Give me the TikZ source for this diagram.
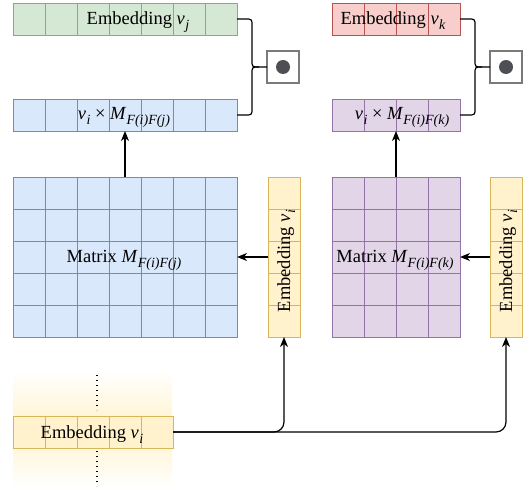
\documentclass[tikz,border=0pt]{standalone}
\usepackage{fontspec}
\setmainfont{Liberation Serif}
\usetikzlibrary{arrows.meta}
\definecolor{gF}{HTML}{D5E8D4}\definecolor{gD}{HTML}{82B366}
\definecolor{bF}{HTML}{DAE8FC}\definecolor{bD}{HTML}{6C8EBF}
\definecolor{rF}{HTML}{F8CECC}\definecolor{rD}{HTML}{B85450}
\definecolor{pF}{HTML}{E1D5E7}\definecolor{pD}{HTML}{9673A6}
\definecolor{yF}{HTML}{FFF2CC}\definecolor{yD}{HTML}{D6B656}
\definecolor{dotc}{HTML}{4D4F55}
\definecolor{boxD}{HTML}{7A7A7A}
\newcommand{\subit}[1]{\raisebox{-5pt}{\fontsize{14}{15}\selectfont\itshape #1}}
\newcommand{\itv}[1]{\textit{v}\kern0.5pt\subit{#1}}
\begin{document}
\begin{tikzpicture}[x=1pt,y=-1pt,
 lbl/.style={font=\fontsize{18.5}{22}\selectfont, inner sep=0, anchor=base},
 arr/.style={line width=1.2pt, -{Stealth[length=10pt,width=8pt,inset=3pt]}},
 cellbox/.style={line width=0.9pt, inner sep=0, outer sep=0},
 conn/.style={line width=1.2pt}]
\useasboundingbox (0,0) rectangle (529,489);

% bottom gradient
\shade[top color=white, bottom color=white, middle color=yF] (13,370) rectangle (172,488);
\draw[line width=1.3pt, dash pattern=on 1.3pt off 3.7pt] (97,375) -- (97,410);
\draw[line width=1.3pt, dash pattern=on 1.3pt off 3.7pt] (97,451) -- (97,486);

% green embedding v_j
\node[cellbox, draw=gD, fill=gF, minimum width=224pt, minimum height=32pt] (ej) at (125,19) {};
\foreach \x in {45,77,...,205} \draw[cellbox, gD] (\x,3) -- (\x,35);
\node[lbl] at (138,25) {Embedding \itv{j}};

% blue row
\node[cellbox, draw=bD, fill=bF, minimum width=224pt, minimum height=32pt] (bv) at (125,115) {};
\foreach \x in {45,77,...,205} \draw[cellbox, bD] (\x,99) -- (\x,131);
\node[lbl] at (124,120) {\itv{i} × \textit{M}\subit{F(i)F(j)}};

% blue matrix
\node[cellbox, draw=bD, fill=bF, minimum width=224pt, minimum height=160pt] (bm) at (125,257) {};
\foreach \x in {45,77,...,205} \draw[cellbox, bD] (\x,177) -- (\x,337);
\foreach \y in {209,241,273,305} \draw[cellbox, bD] (13,\y) -- (237,\y);
\node[lbl] at (124,262) {Matrix \textit{M}\subit{F(i)F(j)}};

% left yellow vertical
\node[cellbox, draw=yD, fill=yF, minimum width=32pt, minimum height=160pt] (ey1) at (284,257) {};
\foreach \y in {209,241,273,305} \draw[cellbox, yD] (268,\y) -- (300,\y);
\node[lbl, rotate=90] at (290,261) {Embedding \itv{i}};

% red embedding v_k
\node[cellbox, draw=rD, fill=rF, minimum width=128pt, minimum height=32pt] (ek) at (396,19) {};
\foreach \x in {364,396,428} \draw[cellbox, rD] (\x,3) -- (\x,35);
\node[lbl] at (393,25) {Embedding \itv{k}};

% purple row
\node[cellbox, draw=pD, fill=pF, minimum width=128pt, minimum height=32pt] (pv) at (396,115) {};
\foreach \x in {364,396,428} \draw[cellbox, pD] (\x,99) -- (\x,131);
\node[lbl] at (402,120) {\itv{i} × \textit{M}\subit{F(i)F(k)}};

% purple matrix
\node[cellbox, draw=pD, fill=pF, minimum width=128pt, minimum height=160pt] (pm) at (396,257) {};
\foreach \x in {364,396,428} \draw[cellbox, pD] (\x,177) -- (\x,337);
\foreach \y in {209,241,273,305} \draw[cellbox, pD] (332,\y) -- (460,\y);
\node[lbl] at (395,262) {Matrix \textit{M}\subit{F(i)F(k)}};

% right yellow vertical
\node[cellbox, draw=yD, fill=yF, minimum width=32pt, minimum height=160pt] (ey2) at (506,257) {};
\foreach \y in {209,241,273,305} \draw[cellbox, yD] (490,\y) -- (522,\y);
\node[lbl, rotate=90] at (512,261) {Embedding \itv{i}};

% bottom embedding v_i
\node[cellbox, draw=yD, fill=yF, minimum width=160pt, minimum height=32pt] (eb) at (93,432) {};
\foreach \x in {45,77,109,141} \draw[cellbox, yD] (\x,416) -- (\x,448);
\node[lbl] at (92,438) {Embedding \itv{i}};

% dot boxes
\node[cellbox, draw=boxD, fill=white, line width=1.3pt, minimum width=32pt, minimum height=32pt] (d1) at (283,67) {};
\fill[dotc] (d1.center) circle (7pt);
\node[cellbox, draw=boxD, fill=white, line width=1.3pt, minimum width=32pt, minimum height=32pt] (d2) at (506,67) {};
\fill[dotc] (d2.center) circle (7pt);

% braces
\draw[conn] (ej.east) -- (245,19) .. controls (252,19) .. (252,26) -- (252,60) .. controls (252,67) .. (259,67) -- (d1.west);
\draw[conn] (bv.east) -- (245,115) .. controls (252,115) .. (252,108) -- (252,74) .. controls (252,67) .. (259,67);
\draw[conn] (ek.east) -- (468,19) .. controls (475,19) .. (475,26) -- (475,60) .. controls (475,67) .. (482,67) -- (d2.west);
\draw[conn] (pv.east) -- (468,115) .. controls (475,115) .. (475,108) -- (475,74) .. controls (475,67) .. (482,67);

% arrows
\draw[arr] (bm.north) -- (bv.south);
\draw[arr] (pm.north) -- (pv.south);
\draw[arr] (ey1.west) -- (bm.east);
\draw[arr] (ey2.west) -- (pm.east);
\draw[arr, rounded corners=10pt] (eb.east) -| (ey1.south);
\draw[arr, rounded corners=10pt] (eb.east) -| (ey2.south);
\end{tikzpicture}
\end{document}
